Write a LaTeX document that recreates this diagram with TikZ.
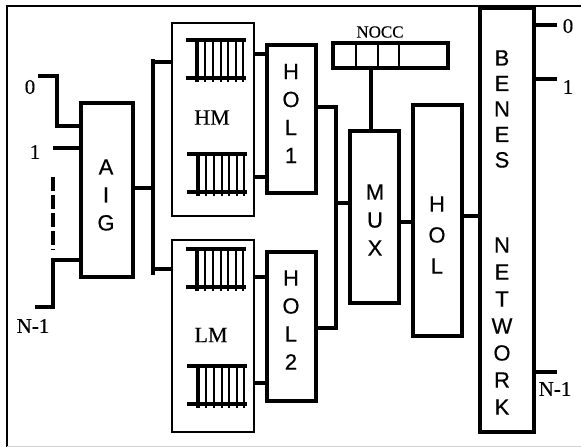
\documentclass[tikz,border=0pt]{standalone}
\usepackage{fontspec}
\setmainfont{Liberation Serif}[FakeBold=0.3]
\newfontfamily\hv{Liberation Sans}[FakeBold=0.5]
\begin{document}
\begin{tikzpicture}[x=1pt,y=-1pt,
  box/.style={draw, line width=3.5pt, inner sep=0pt},
  wire/.style={line width=3.5pt},
  caps/.style={font=\hv\fontsize{22}{#1}\selectfont, align=center, inner sep=0pt},
  caps/.default=28,
  lbl/.style={font=\fontsize{21}{21}\selectfont, inner sep=0pt},
  queue/.pic={
    % open-ended buffer: two rails and a row of slots
    \draw[line width=3.5pt] (0,0) -- (60,0);
    \draw[line width=3.5pt] (0,38) -- (60,38);
    \draw[line width=3.5pt] (11,0) -- (11,42);
    \foreach \k in {19,27,35,42,50} \draw[line width=2.2pt] (\k,0) -- (\k,42);
    \draw[line width=2.8pt] (57,0) -- (57,42);
  }]
\useasboundingbox (0,0) rectangle (581,447);

% outer frame
\draw[line width=1.4pt] (7,447) -- (7,6) -- (581,6);
\draw[gray!35, line width=1pt] (7,446) -- (581,446);

% blocks
\node[box, minimum width=52pt, minimum height=174pt] (aig) at (107,190) {};
\node[box, line width=2.8pt, minimum width=82pt, minimum height=193pt] (hm) at (213,119.5) {};
\node[box, line width=2.8pt, minimum width=82pt, minimum height=192pt] (lm) at (213,336) {};
\node[box, minimum width=49pt, minimum height=148pt] (hol1) at (291.5,119) {};
\node[box, minimum width=49pt, minimum height=149pt] (hol2) at (291.5,326.5) {};
\node[box, minimum width=49pt, minimum height=172pt] (mux) at (374.5,217) {};
\node[box, minimum width=49pt, minimum height=231pt] (hol) at (437.5,220.5) {};
\node[box, minimum width=54pt, minimum height=424pt] (benes) at (507,220) {};
\node[box, minimum width=115pt, minimum height=25pt] (nocc) at (390.5,55.5) {};
\foreach \dx in {356,378,399}
  \draw[line width=2.8pt] (\dx,0 |- nocc.north) -- (\dx,0 |- nocc.south);

% block captions
\node[caps] (aigt) at (106,195) {A\\I\\G};
\node[caps] (hol1t) at (291,113.5) {H\\O\\L\\1};
\node[caps] (hol2t) at (291,320) {H\\O\\L\\2};
\node[caps] (muxt) at (375,220) {M\\U\\X};
\node[caps=31] (holt) at (437,235) {H\\O\\L};
\node[caps=25.5] (benest) at (502,109) {B\\E\\N\\E\\S};
\node[caps=27] (networkt) at (502,326) {N\\E\\T\\W\\O\\R\\K};
\node[font=\fontsize{22}{22}\selectfont, inner sep=0pt] (hmt) at (212,117.5) {HM};
\node[font=\fontsize{22}{22}\selectfont, inner sep=0pt] (lmt) at (211,335) {LM};
\node[font=\fontsize{17}{17}\selectfont, inner sep=0pt] (nocct) at (380,32) {NOCC};

% buffers inside the memories
\pic at (186,40) {queue};
\pic at (187,154) {queue};
\pic at (186,249) {queue};
\pic at (187,366) {queue};

% input ports
\coordinate (i0) at (38,76);
\coordinate (i1) at (53,148);
\coordinate (in) at (35,307);
\draw[wire] (i0) -| (57,126) -- (aig.west |- 0,126);
\draw[wire] (i1) -- (aig.west |- i1);
\draw[wire, dash pattern=on 14pt off 4pt] (53,177) -- (53,250);
\draw[wire] (in) -| (53,260) -- (aig.west |- 0,260);
\node[lbl] (l0) at (30,87) {0};
\node[lbl] (l1) at (35,152) {1};
\node[lbl] (ln) at (33,326) {N-1};

% AIG to the two memories
\coordinate (bus) at (153,188);
\draw[wire] (aig.east |- bus) -- (bus);
\draw[wire] (153,59) -- (153,275);
\draw[wire] (153,62) -- (hm.west |- 0,62);
\draw[wire] (153,269) -- (lm.west |- 0,269);

% memories to head-of-line blocks
\draw[wire] (hm.east |- 0,54) -- (hol1.west |- 0,54);
\draw[wire] (hm.east |- 0,177) -- (hol1.west |- 0,177);
\draw[wire] (lm.east |- 0,277) -- (hol2.west |- 0,277);
\draw[wire] (lm.east |- 0,383) -- (hol2.west |- 0,383);

% HOL1 / HOL2 into the multiplexer
\coordinate (m) at (336,203);
\draw[wire] (hol1.east |- 0,107) -| (m);
\draw[wire] (hol2.east |- 0,328) -| (m);
\draw[wire] (m) -- (mux.west |- m);
\draw[wire] (nocc.south -| 371,0) -- (mux.north -| 371,0);

% multiplexer to HOL to the Benes network
\draw[wire] (mux.east |- 0,222) -- (hol.west |- 0,222);
\draw[wire] (hol.east |- 0,216) -- (benes.west |- 0,216);

% output ports
\coordinate (o0) at (557,25);
\coordinate (o1) at (557,79);
\coordinate (on) at (557,372);
\draw[wire] (benes.east |- o0) -- (o0);
\draw[wire] (benes.east |- o1) -- (o1);
\draw[wire] (benes.east |- on) -- (on);
\node[lbl] (r0) at (568,26) {0};
\node[lbl] (r1) at (568,87) {1};
\node[lbl] (rn) at (555,389) {N-1};
\end{tikzpicture}
\end{document}
